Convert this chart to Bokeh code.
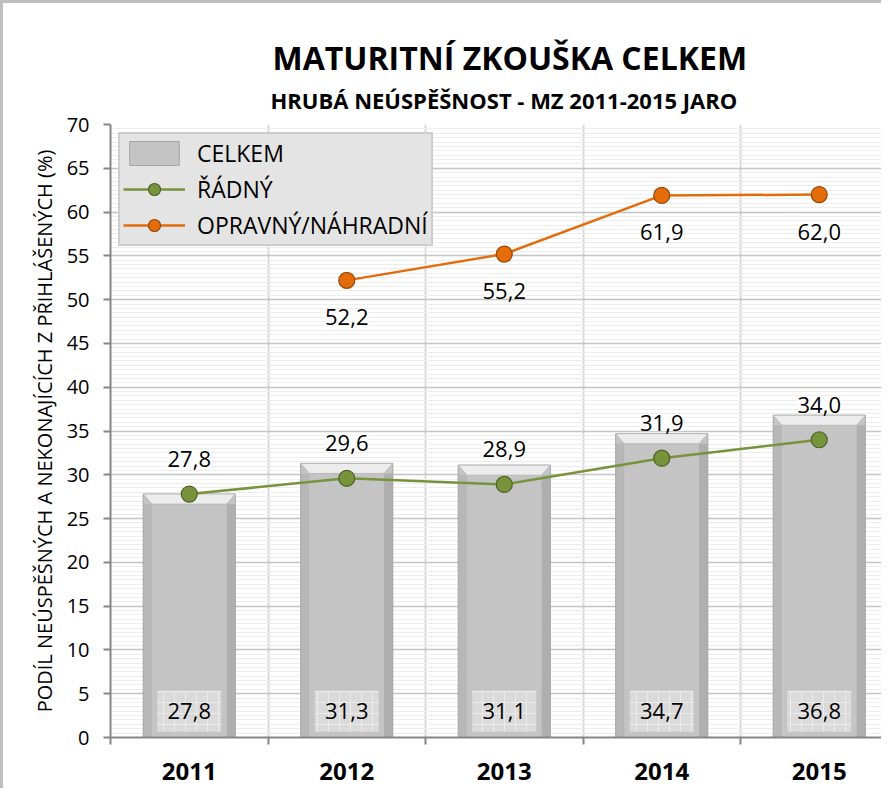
from bokeh.plotting import figure
from bokeh.models import (ColumnDataSource, Range1d, FixedTicker, SingleIntervalTicker,
                          LabelSet, Legend, LegendItem, Title)
from bokeh.embed import file_html
from bokeh.resources import INLINE
from bokeh.core.properties import value

# ---------------- data ----------------
years = ["2011", "2012", "2013", "2014", "2015"]
celkem = [27.8, 31.3, 31.1, 34.7, 36.8]
radny = [27.8, 29.6, 28.9, 31.9, 34.0]
opravny_years = ["2012", "2013", "2014", "2015"]
opravny = [52.2, 55.2, 61.9, 62.0]
y_ticks = list(range(0, 75, 5))
series_names = ["CELKEM", "ŘÁDNÝ", "OPRAVNÝ/NÁHRADNÍ"]
title_text = "MATURITNÍ ZKOUŠKA CELKEM"
subtitle_text = "HRUBÁ NEÚSPĚŠNOST - MZ 2011-2015 JARO"
y_label = "PODÍL NEÚSPĚŠNÝCH A NEKONAJÍCÍCH Z PŘIHLÁŠENÝCH (%)"


def fmt(v):
    return f"{v:.1f}".replace(".", ",")


# ---------------- style ----------------
FONT = "Open Sans"
GREEN = "#77933C"
GREEN_DARK = "#4F6228"
ORANGE = "#E46C0A"
ORANGE_DARK = "#984807"
BAR_FILL = "#C4C4C4"
AXIS = "#868686"

W, H = 881, 788
FRAME_LEFT, FRAME_TOP, FRAME_BOTTOM = 107, 121, 54
CAT_PX = 157.5
x_end = -0.5 + (W - FRAME_LEFT) / CAT_PX
BAR_W = 0.585
BEVEL = 1.15          # height of the light top bevel (data units)
EDGE = 0.055          # width of the shaded bar edges (data units)
BOX_Y = 3.0           # vertical position of the in-bar label boxes

x = list(range(len(years)))
xo = [years.index(y) for y in opravny_years]
hw = BAR_W / 2

bars = ColumnDataSource(dict(
    x=x, top=celkem, lab=[fmt(v) for v in celkem], ly=[BOX_Y] * len(x),
    lx0=[i - hw for i in x], lx1=[i - hw + EDGE for i in x],
    rx0=[i + hw - EDGE for i in x], rx1=[i + hw for i in x],
    etop=[v - BEVEL for v in celkem]))
bevel_xs = [[i - hw, i + hw, i + hw - EDGE, i - hw + EDGE] for i in x]
bevel_ys = [[v, v, v - BEVEL, v - BEVEL] for v in celkem]
rad = ColumnDataSource(dict(x=x, y=radny, lab=[fmt(v) for v in radny]))
opr = ColumnDataSource(dict(x=xo, y=opravny, lab=[fmt(v) for v in opravny]))

p = figure(width=W, height=H, x_range=Range1d(-0.5, x_end), y_range=Range1d(0, 70),
           output_backend="svg", toolbar_location=None, title=None,
           min_border_left=FRAME_LEFT, min_border_right=0,
           min_border_top=FRAME_TOP, min_border_bottom=FRAME_BOTTOM)
p.styles = {"border-left": "3px solid #BFBFBF", "border-top": "3px solid #BFBFBF"}
p.outline_line_color = None
p.background_fill_color = "white"
p.border_fill_color = "white"

# titles (stacked outward: subtitle first)
sub = Title(text=subtitle_text, align="left", text_font=FONT, text_font_size="22px",
            text_font_style="bold", text_color="black", standoff=19, offset=160)
tit = Title(text=title_text, align="left", text_font=FONT, text_font_size="32px",
            text_font_style="bold", text_color="black", standoff=-11, offset=162)
p.add_layout(sub, "above")
p.add_layout(tit, "above")

# grids
p.xgrid.ticker = FixedTicker(ticks=[i - 0.5 for i in range(len(years) + 1)])
p.xgrid.grid_line_color = "#D9D9D9"
p.xgrid.grid_line_width = 2
yt = SingleIntervalTicker(interval=5, num_minor_ticks=10)
p.ygrid.ticker = yt
p.ygrid.grid_line_color = "#C4C4C4"
p.ygrid.grid_line_width = 1.5
p.ygrid.minor_grid_line_color = "#EDEDED"
p.ygrid.minor_grid_line_width = 1

# axes
p.yaxis.ticker = FixedTicker(ticks=y_ticks)
p.yaxis.axis_line_color = AXIS
p.yaxis.axis_line_width = 2
p.yaxis.major_tick_line_color = AXIS
p.yaxis.major_tick_line_width = 2
p.yaxis.major_tick_out = 7
p.yaxis.major_tick_in = 0
p.yaxis.minor_tick_line_color = None
p.yaxis.major_label_standoff = 14
p.yaxis.major_label_text_font = FONT
p.yaxis.major_label_text_font_size = "20px"
p.yaxis.major_label_text_color = "black"
p.yaxis.axis_label = y_label
p.yaxis.axis_label_text_font = FONT
p.yaxis.axis_label_text_font_size = "20px"
p.yaxis.axis_label_text_font_style = "normal"
p.yaxis.axis_label_text_color = "black"
p.yaxis.axis_label_standoff = 6

p.xaxis.ticker = FixedTicker(ticks=x, minor_ticks=[i - 0.5 for i in range(len(years) + 1)])
p.xaxis.major_label_overrides = {i: years[i] for i in x}
p.xaxis.axis_line_color = AXIS
p.xaxis.axis_line_width = 2
p.xaxis.major_tick_line_color = None
p.xaxis.major_tick_out = 0
p.xaxis.minor_tick_line_color = AXIS
p.xaxis.minor_tick_line_width = 2
p.xaxis.minor_tick_out = 7
p.xaxis.minor_tick_in = 0
p.xaxis.major_label_standoff = 18
p.xaxis.major_label_text_font = FONT
p.xaxis.major_label_text_font_size = "24px"
p.xaxis.major_label_text_font_style = "bold"
p.xaxis.major_label_text_color = "black"

# bars
bar_r = p.vbar(x="x", top="top", bottom=0, width=BAR_W, source=bars,
               fill_color=BAR_FILL, line_color="#A6A6A6", line_width=1)
p.quad(left="lx0", right="lx1", bottom=0, top="etop", source=bars,
       fill_color="#A9A9A9", fill_alpha=0.45, line_color=None)
p.quad(left="rx0", right="rx1", bottom=0, top="etop", source=bars,
       fill_color="#9E9E9E", fill_alpha=0.55, line_color=None)
p.patches(xs=bevel_xs, ys=bevel_ys, fill_color="#ECECEC", line_color="#B4B4B4",
          line_width=0.8)
p.rect(x="x", y="ly", width=64, height=41, width_units="screen", height_units="screen",
       source=bars, fill_color="#DADADA", line_color=None,
       hatch_pattern="cross", hatch_color="#EBEBEB", hatch_scale=11, hatch_weight=1)
p.text(x="x", y="ly", text="lab", source=bars, text_align="center", text_baseline="middle",
       text_font=value(FONT), text_font_size="22px", text_color="black")

# lines
g_line = p.line(x="x", y="y", source=rad, line_color=GREEN, line_width=2.5)
g_mark = p.scatter(x="x", y="y", source=rad, size=16, fill_color=GREEN,
                   line_color=GREEN_DARK, line_width=1.2)
o_line = p.line(x="x", y="y", source=opr, line_color=ORANGE, line_width=2.5)
o_mark = p.scatter(x="x", y="y", source=opr, size=16, fill_color=ORANGE,
                   line_color=ORANGE_DARK, line_width=1.2)

p.add_layout(LabelSet(x="x", y="y", text="lab", source=rad, y_offset=35,
                      text_align="center", text_baseline="middle",
                      text_font=value(FONT), text_font_size="22px", text_color="black",
                      background_fill_color="white", background_fill_alpha=0.8))
p.add_layout(LabelSet(x="x", y="y", text="lab", source=opr, y_offset=-37,
                      text_align="center", text_baseline="middle",
                      text_font=value(FONT), text_font_size="22px", text_color="black",
                      background_fill_color="white", background_fill_alpha=0.8))

legend = Legend(items=[
    LegendItem(label=series_names[0], renderers=[bar_r]),
    LegendItem(label=series_names[1], renderers=[g_line, g_mark]),
    LegendItem(label=series_names[2], renderers=[o_line, o_mark]),
], location="top_left")
legend.margin = 8
legend.padding = 3
legend.spacing = 4
legend.glyph_width = 62
legend.glyph_height = 30
legend.label_standoff = 12
legend.label_text_font = FONT
legend.label_text_font_size = "23px"
legend.label_text_color = "black"
legend.background_fill_color = "#E4E4E4"
legend.background_fill_alpha = 1
legend.border_line_color = "#B5B5B5"
legend.border_line_width = 2
p.add_layout(legend)

open("out.html", "w").write(file_html(p, INLINE))
